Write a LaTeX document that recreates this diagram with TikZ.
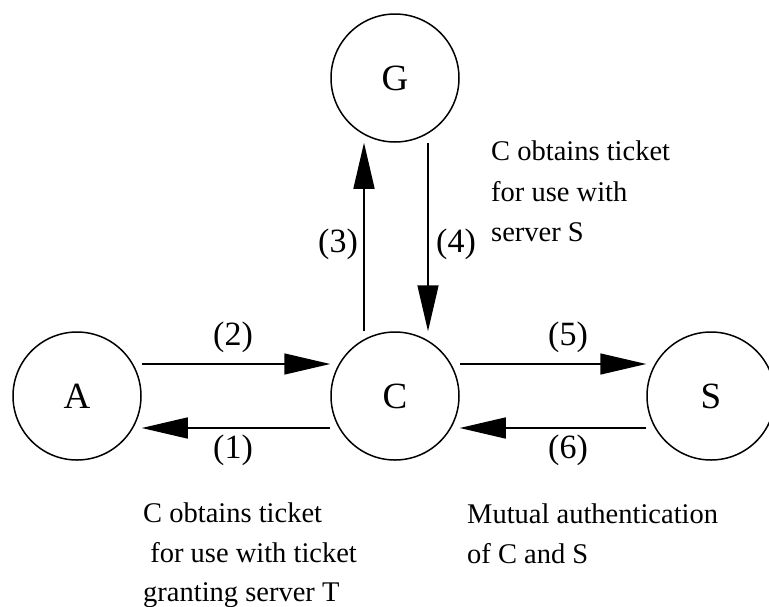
\documentclass[tikz,border=0pt]{standalone}
\usepackage{fontspec}
\setmainfont{Liberation Serif}
\usetikzlibrary{arrows.meta}
\begin{document}
\begin{tikzpicture}[x=1pt,y=-1pt,
  party/.style={circle,draw,line width=1.5pt,minimum size=128pt,inner sep=0pt,font=\fontsize{37}{40}\selectfont},
  msg/.style={line width=1.5pt,-{Triangle[length=46pt,width=21pt]}},
  num/.style={font=\fontsize{34}{38}\selectfont,inner sep=0pt},
  note/.style={font=\fontsize{28.5}{32}\selectfont,inner sep=0pt,anchor=base west}]
\useasboundingbox (0,0) rectangle (769,606);
\node[party] (A) at (77,396) {A};
\node[party] (C) at (395,396) {C};
\node[party] (S) at (711,396) {S};
\node[party] (G) at (395,78) {G};
% horizontal messages
\draw[msg] ([yshift=32pt]A.east) -- ([yshift=32pt]C.west);
\draw[msg] ([yshift=-32pt]C.west) -- ([yshift=-32pt]A.east);
\draw[msg] ([yshift=32pt]C.east) -- ([yshift=32pt]S.west);
\draw[msg] ([yshift=-32pt]S.west) -- ([yshift=-32pt]C.east);
% vertical messages
\draw[msg] ([xshift=-31pt]C.north) -- ([xshift=-31pt]G.south);
\draw[msg] ([xshift=33pt]G.south) -- ([xshift=33pt]C.north);
% numbers
\node[num] (n2) at (233,337) {(2)};
\node[num] (n1) at (233,450) {(1)};
\node[num] (n5) at (568,337) {(5)};
\node[num] (n6) at (568,450) {(6)};
\node[num] (n3) at (338,244) {(3)};
\node[num] (n4) at (456,244) {(4)};
% notes
\node[note] (t1) at (491,160) {C obtains ticket};
\node[note] (t2) at (491,201) {for use with};
\node[note] (t3) at (491,241) {server S};
\node[note] (b1) at (143,522) {C obtains ticket};
\node[note] (b2) at (143,562) {\ for use with ticket};
\node[note] (b3) at (143,601) {granting server T};
\node[note] (r1) at (467,523) {Mutual authentication};
\node[note] (r2) at (467,563) {of C and S};
\end{tikzpicture}
\end{document}
